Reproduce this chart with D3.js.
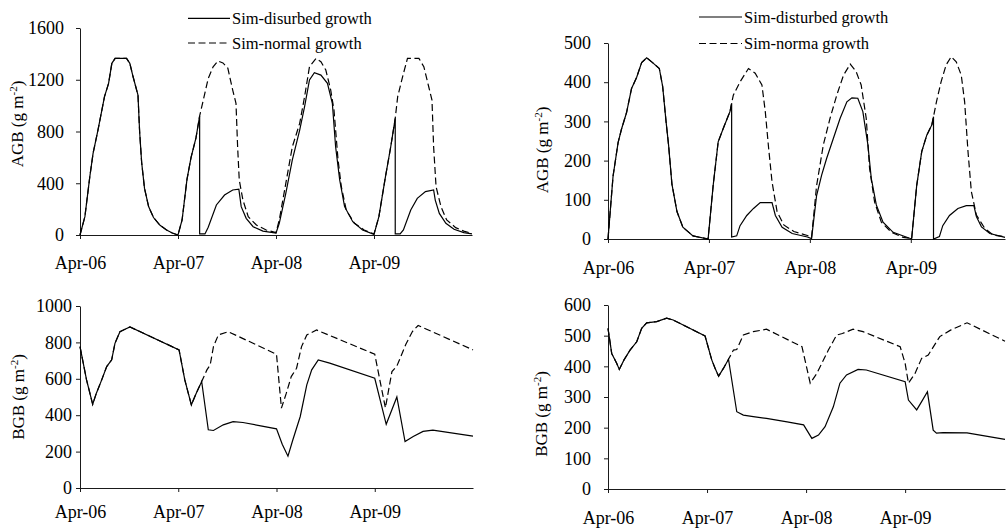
<!DOCTYPE html>
<html>
<head>
<meta charset="utf-8">
<script src="https://cdn.jsdelivr.net/npm/d3@7"></script>
<style>
  body { margin: 0; background: #fff; }
  svg { display: block; }
  text { font-family: "Liberation Serif", "Times New Roman", serif; fill: #000; }
</style>
</head>
<body>
<svg id="chart" width="1007" height="529"></svg>
<script>
// Time axis: months since April 2006
const monthTicks = [0, 12, 24, 36];
const monthLabels = ["Apr-06", "Apr-07", "Apr-08", "Apr-09"];

// Tick values for each biomass axis (g m-2)
const agbTicksA = [0, 400, 800, 1200, 1600];
const agbTicksB = [0, 100, 200, 300, 400, 500];
const bgbTicksA = [0, 200, 400, 600, 800, 1000];
const bgbTicksB = [0, 100, 200, 300, 400, 500, 600];

// Site A, above-ground biomass: [month, g m-2]
const agbNormalA = [
  [0,0],[0.6,142],[1.2,450],[1.6,631],[2.2,811],[3.0,1069],[3.5,1172],[3.9,1327],[4.3,1365],[5.7,1365],
  [6.1,1327],[6.5,1223],[7.1,1082],[7.3,800],[7.55,560],[7.9,360],[8.4,220],[9.0,135],[9.8,75],[10.6,39],[11.3,15],[12.0,0],
  [12.5,116],[13.1,430],[13.6,600],[14.2,750],[14.65,920],
  [15.05,1030],[15.7,1210],[16.3,1300],[16.9,1345],[17.5,1330],[18.1,1290],[18.7,1120],[19.1,1018],[19.3,682],[19.5,425],
  [19.95,270],[20.6,142],[21.6,77],[22.8,39],[24.0,18],
  [24.4,116],[25.2,399],[26.0,682],[26.9,863],[27.5,1069],[28.1,1301],[28.9,1365],[29.5,1340],[30.1,1275],[30.7,1120],
  [31.1,966],[31.6,580],[32.0,373],[32.6,193],[33.6,90],[34.8,39],[36.0,8],
  [36.6,142],[37.4,450],[38.05,682],[38.6,902],
  [38.9,1069],[39.5,1223],[40.1,1365],[41.5,1365],[42.1,1301],[42.7,1146],[43.1,1043],[43.3,682],[43.6,373],[44.2,219],
  [44.9,116],[46.0,57],[47.0,30],[48.0,12]
];
const agbDisturbedA = [
  [0,0],[0.6,142],[1.2,450],[1.6,631],[2.2,811],[3.0,1069],[3.5,1172],[3.9,1327],[4.3,1365],[5.7,1365],
  [6.1,1327],[6.5,1223],[7.1,1082],[7.3,800],[7.55,560],[7.9,360],[8.4,220],[9.0,135],[9.8,75],[10.6,39],[11.3,15],[12.0,0],
  [12.5,116],[13.1,430],[13.6,600],[14.2,750],[14.65,920],
  [14.65,8],[15.3,8],[15.7,60],[16.7,232],[17.7,309],[18.7,348],[19.45,355],[19.74,219],[20.35,129],[21.2,64],[22.4,30],[24.0,15],
  [24.4,90],[25.2,322],[26.0,580],[26.9,811],[27.5,992],[28.1,1198],[28.7,1254],[29.5,1236],[30.3,1172],[30.9,1018],
  [31.3,682],[31.8,425],[32.4,219],[33.4,103],[34.6,39],[36.0,5],
  [36.6,142],[37.4,450],[38.05,682],[38.6,902],
  [38.6,8],[39.2,8],[39.6,39],[40.5,193],[41.3,283],[42.3,335],[43.3,348],[43.5,270],[44.0,167],[44.8,90],
  [45.8,44],[47.0,18],[48.0,8]
];

// Site B, above-ground biomass
const agbNormalB = [
  [0,0],[0.6,160],[1.2,246],[1.6,280],[2.2,322],[2.8,384],[3.4,412],[4.0,450],[4.6,462],[5.3,450],[6.1,435],
  [6.5,389],[6.9,300],[7.2,240],[7.6,140],[8.2,70],[8.9,30],[10.1,8],[11.9,0],
  [12.5,136],[13.1,248],[13.7,282],[14.5,325],[14.7,346],
  [14.9,367],[15.7,401],[16.7,435],[17.5,423],[18.3,393],[18.7,325],[19.1,231],[19.5,146],[20.1,70],[20.9,36],
  [22.1,19],[23.7,9],[24.2,4],
  [24.8,136],[25.6,240],[26.4,308],[27.2,367],[28.0,418],[28.8,446],[29.5,427],[30.1,393],[30.7,308],[31.1,180],
  [31.7,94],[32.5,43],[33.7,17],[35.1,4],[36.1,1],
  [36.7,136],[37.3,223],[37.9,265],[38.5,291],[38.7,312],
  [39.05,350],[39.6,401],[40.2,444],[40.8,465],[41.4,452],[42.0,418],[42.4,350],[42.8,223],[43.2,121],[43.8,61],
  [44.8,27],[45.8,10],[47.2,6]
];
const agbDisturbedB = [
  [0,0],[0.6,160],[1.2,246],[1.6,280],[2.2,322],[2.8,384],[3.4,412],[4.0,450],[4.6,462],[5.3,450],[6.1,435],
  [6.5,389],[6.9,300],[7.2,240],[7.6,140],[8.2,70],[8.9,30],[10.1,8],[11.9,0],
  [12.5,136],[13.1,248],[13.7,282],[14.5,325],[14.7,346],
  [14.7,5],[15.3,8],[15.7,34],[16.5,60],[17.3,78],[18.1,93],[19.5,93],[19.9,60],[20.7,30],[21.9,14],[23.7,5],[24.2,1],
  [24.8,111],[25.4,163],[26.0,206],[26.8,257],[27.6,308],[28.4,350],[29.0,360],[29.7,359],[30.3,325],[30.9,240],
  [31.3,155],[31.9,87],[32.7,43],[33.9,17],[36.1,0],
  [36.7,136],[37.3,223],[37.9,265],[38.5,291],[38.7,312],
  [38.7,0],[39.4,6],[39.8,34],[40.6,60],[41.6,78],[42.6,85],[43.5,85],[43.8,57],[44.4,31],[45.4,14],[47.2,4]
];

// Site A, below-ground biomass
const bgbNormalA = [
  [0,777],[0.8,594],[1.55,460],[2.0,521],[2.65,594],[3.26,667],[3.87,704],[4.27,795],[4.88,859],[5.5,872],[6.1,885],
  [12.1,759],[12.8,594],[13.6,457],[14.2,521],[14.86,585],
  [15.5,649],[15.9,676],[16.3,777],[16.9,841],[18.1,859],[24.0,735],[24.6,439],[25.2,521],[25.8,612],[26.45,658],
  [27.06,777],[27.7,841],[28.9,868],[36.0,735],[37.3,440],[38.1,640],[38.7,670],[39.8,790],[40.6,860],[41.3,893],[48.0,759]
];
const bgbDisturbedA = [
  [0,777],[0.8,594],[1.55,460],[2.0,521],[2.65,594],[3.26,667],[3.87,704],[4.27,795],[4.88,859],[5.5,872],[6.1,885],
  [12.1,759],[12.8,594],[13.6,457],[14.2,521],[14.86,585],
  [15.67,320],[16.3,316],[17.5,347],[18.7,365],[19.9,360],[24.0,325],[24.7,240],[25.4,175],[26.0,265],[26.9,393],
  [27.7,567],[28.3,649],[29.1,704],[30.5,686],[36.0,603],[37.4,350],[38.7,500],[39.7,255],[40.7,283],[41.9,311],
  [43.1,318],[48.0,285]
];

// Site B, below-ground biomass
const bgbNormalB = [
  [0,524],[0.45,442],[1.05,410],[1.37,390],[1.94,421],[2.67,453],[3.48,480],[4.08,524],[4.69,542],[5.9,546],[7.1,557],
  [7.9,551],[11.76,499],[12.57,421],[12.97,394],[13.4,368],[14.0,394],[14.6,423],
  [15.2,453],[15.6,455],[16.4,502],[17.6,513],[19.2,521],[23.5,464],[24.5,345],[25.3,377],[26.7,453],[27.7,502],
  [28.4,507],[29.7,521],[30.9,513],[35.4,464],[36.0,410],[36.4,345],[37.2,377],[38.0,426],[38.8,437],[40.2,497],
  [41.5,518],[43.5,542],[48.1,482]
];
const bgbDisturbedB = [
  [0,524],[0.45,442],[1.05,410],[1.37,390],[1.94,421],[2.67,453],[3.48,480],[4.08,524],[4.69,542],[5.9,546],[7.1,557],
  [7.9,551],[11.76,499],[12.57,421],[12.97,394],[13.4,368],[14.0,394],[14.6,423],
  [15.6,252],[16.4,241],[17.6,236],[19.2,230],[21.7,219],[23.7,209],[24.7,165],[25.5,176],[26.3,203],[27.3,268],
  [28.1,345],[28.9,372],[30.3,390],[31.3,388],[36.0,350],[36.4,290],[37.4,258],[38.0,285],[38.7,317],[39.4,192],
  [39.8,182],[40.6,184],[43.5,183],[48.1,162]
];

const legendA = ["Sim-disurbed growth", "Sim-normal growth"];
const legendB = ["Sim-disturbed growth", "Sim-norma growth"];

const svg = d3.select("#chart");
const DASH = "7,3.5";
const SERIF = '"Liberation Serif", "Times New Roman", serif';
const TICK_FONT = 18;

const panels = [
  { x0: 80, x1: 472, tMax: 48, yTop: 28, yBot: 235, yMax: 1600, ticks: agbTicksA,
    normal: agbNormalA, disturbed: agbDisturbedA, name: "AGB", pad: 13, labelY: 34,
    titleX: 23, titleY: 124, legend: legendA, legX: 188, legLen: 42, legY: [18.3, 43] },
  { x0: 608, x1: 1005, tMax: 47.2, yTop: 43, yBot: 239, yMax: 500, ticks: agbTicksB,
    normal: agbNormalB, disturbed: agbDisturbedB, name: "AGB", pad: 14, labelY: 35,
    titleX: 548, titleY: 150, legend: legendB, legX: 699, legLen: 43, legY: [17, 43.5] },
  { x0: 80, x1: 473, tMax: 48, yTop: 306, yBot: 488, yMax: 1000, ticks: bgbTicksA,
    normal: bgbNormalA, disturbed: bgbDisturbedA, name: "BGB", pad: 5, labelY: 30,
    titleX: 24, titleY: 397 },
  { x0: 608, x1: 1005, tMax: 48.1, yTop: 305, yBot: 489, yMax: 600, ticks: bgbTicksB,
    normal: bgbNormalB, disturbed: bgbDisturbedB, name: "BGB", pad: 14, labelY: 35,
    titleX: 546.5, titleY: 414 }
];

panels.forEach(p => {
  const x = d3.scaleLinear().domain([0, p.tMax]).range([p.x0, p.x1]);
  const y = d3.scaleLinear().domain([0, p.yMax]).range([p.yBot, p.yTop]);
  const g = svg.append("g");

  // axes
  const yAxis = d3.axisLeft(y).tickValues(p.ticks).tickFormat(d3.format("d"))
    .tickSize(4).tickSizeOuter(0).tickPadding(p.pad - 1);
  const gy = g.append("g").attr("transform", `translate(${p.x0},0)`).call(yAxis);

  const xAxis = d3.axisBottom(x).tickValues(monthTicks).tickFormat((d, i) => monthLabels[i])
    .tickSize(4).tickSizeOuter(0);
  const gx = g.append("g").attr("transform", `translate(0,${p.yBot})`).call(xAxis);
  gx.selectAll("text").attr("dy", null).attr("y", p.labelY);

  [gx, gy].forEach(a => {
    a.attr("font-family", SERIF).attr("font-size", TICK_FONT);
    a.selectAll("path, line").attr("stroke", "#1a1a1a").attr("stroke-width", 1);
    a.selectAll("text").attr("fill", "#000")
      .attr("font-family", SERIF).attr("font-size", TICK_FONT);
  });

  // series
  const line = d3.line().x(d => x(d[0])).y(d => y(d[1]));
  g.append("path").datum(p.normal).attr("d", line)
    .attr("fill", "none").attr("stroke", "#000").attr("stroke-width", 1.2)
    .attr("stroke-dasharray", DASH);
  g.append("path").datum(p.disturbed).attr("d", line)
    .attr("fill", "none").attr("stroke", "#000").attr("stroke-width", 1.2);

  // axis title
  const t = g.append("text")
    .attr("transform", `translate(${p.titleX},${p.titleY}) rotate(-90)`)
    .attr("text-anchor", "middle").attr("font-size", 17).attr("font-family", SERIF);
  t.append("tspan").text(p.name + " (g m");
  t.append("tspan").attr("baseline-shift", "super").attr("font-size", 11).text("-2");
  t.append("tspan").text(")");

  // legend
  if (p.legend) {
    p.legend.forEach((label, i) => {
      const ly = p.legY[i];
      g.append("line")
        .attr("x1", p.legX).attr("x2", p.legX + p.legLen).attr("y1", ly).attr("y2", ly)
        .attr("stroke", "#000").attr("stroke-width", 1.2)
        .attr("stroke-dasharray", i === 1 ? DASH : null);
      g.append("text").attr("x", p.legX + p.legLen + 2).attr("y", ly + 5.5)
        .attr("font-size", 16.5).attr("font-family", SERIF).text(label);
    });
  }
});
</script>
</body>
</html>
